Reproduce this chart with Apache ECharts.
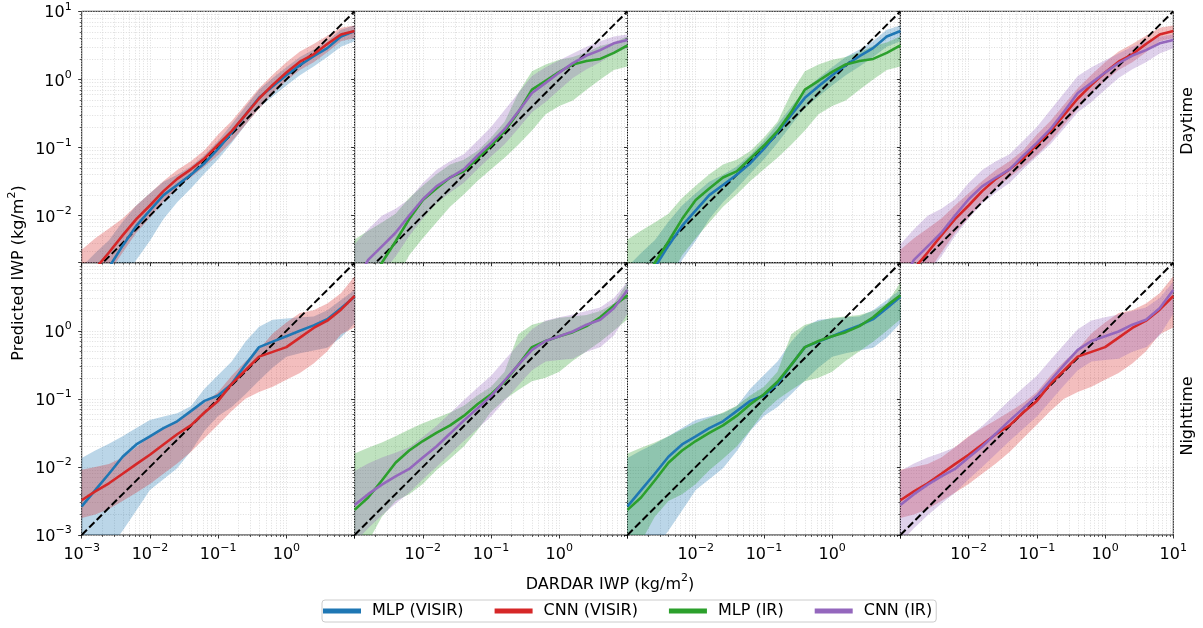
<!DOCTYPE html>
<html><head><meta charset="utf-8">
<script src="https://cdn.jsdelivr.net/npm/echarts@6/dist/echarts.min.js"></script>
<style>html,body{margin:0;padding:0;background:#fff}#c{width:1203px;height:628px}</style>
</head><body><div id="c"></div>
<script>
// DARDAR IWP bin centres (kg/m2)
const xBins = [0.001, 0.00158, 0.00251, 0.00398, 0.00631, 0.01, 0.0158, 0.0251, 0.0398, 0.0631, 0.1, 0.158, 0.251, 0.398, 0.631, 1, 1.58, 2.51, 3.98, 6.31, 10];

// ---- Daytime ----
const dayMlpVisirMedian = [0.00063, 0.001, 0.00174, 0.00363, 0.00708, 0.012, 0.02, 0.0282, 0.0398, 0.0589, 0.0955, 0.166, 0.302, 0.537, 0.794, 1.15, 1.62, 2.19, 2.88, 4.27, 5.13];
const dayMlpVisirLow    = [0.000158, 0.000251, 0.000437, 0.00102, 0.00224, 0.00427, 0.00891, 0.0158, 0.0251, 0.0417, 0.0676, 0.117, 0.214, 0.38, 0.562, 0.813, 1.15, 1.55, 2.14, 3.02, 3.63];
const dayMlpVisirHigh   = [0.00178, 0.00282, 0.00437, 0.00813, 0.0141, 0.0214, 0.0316, 0.0398, 0.0525, 0.0776, 0.126, 0.219, 0.398, 0.708, 1.05, 1.51, 2.14, 2.75, 3.63, 5.37, 6.17];

const dayCnnVisirMedian = [0.000891, 0.00166, 0.00288, 0.00513, 0.00891, 0.0141, 0.0229, 0.0347, 0.0479, 0.0692, 0.11, 0.174, 0.302, 0.525, 0.832, 1.26, 1.82, 2.34, 3.31, 4.57, 5.13];
const dayCnnVisirLow    = [0.000447, 0.000832, 0.00145, 0.00288, 0.00562, 0.00933, 0.0162, 0.0257, 0.0363, 0.0525, 0.0776, 0.123, 0.214, 0.372, 0.631, 0.955, 1.38, 1.78, 2.51, 3.63, 4.07];
const dayCnnVisirHigh   = [0.00316, 0.00468, 0.00646, 0.00912, 0.0141, 0.0214, 0.0324, 0.0468, 0.0631, 0.0912, 0.155, 0.245, 0.427, 0.741, 1.17, 1.78, 2.57, 3.31, 4.37, 5.75, 6.17];

const dayMlpIrMedian = [0.000501, 0.001, 0.00204, 0.00417, 0.00891, 0.017, 0.0251, 0.0363, 0.0447, 0.0692, 0.107, 0.174, 0.331, 0.708, 0.955, 1.29, 1.66, 1.86, 2.0, 2.45, 3.16];
const dayMlpIrLow    = [0.000126, 0.000251, 0.000501, 0.00112, 0.00263, 0.00468, 0.00794, 0.0135, 0.0204, 0.0324, 0.0479, 0.0708, 0.11, 0.178, 0.309, 0.407, 0.49, 0.708, 1.0, 1.38, 1.55];
const dayMlpIrHigh   = [0.00447, 0.00603, 0.00794, 0.0107, 0.0182, 0.0275, 0.0407, 0.0562, 0.0661, 0.0891, 0.141, 0.24, 0.631, 1.32, 1.66, 1.95, 2.14, 2.51, 3.09, 3.47, 4.27];

const dayCnnIrMedian = [0.001, 0.00224, 0.00355, 0.00562, 0.01, 0.0174, 0.0269, 0.0363, 0.0479, 0.0759, 0.117, 0.186, 0.339, 0.631, 0.891, 1.26, 1.74, 2.24, 2.69, 3.39, 3.8];
const dayCnnIrLow    = [0.000316, 0.000794, 0.00141, 0.00251, 0.00501, 0.00912, 0.0151, 0.0219, 0.0302, 0.0479, 0.0741, 0.112, 0.191, 0.331, 0.468, 0.708, 1.05, 1.41, 1.78, 2.4, 2.88];
const dayCnnIrHigh   = [0.0038, 0.00631, 0.01, 0.0126, 0.0174, 0.0302, 0.0468, 0.0631, 0.0794, 0.126, 0.2, 0.355, 0.63, 1.12, 1.51, 1.91, 2.4, 3.02, 3.63, 4.27, 4.57];

// ---- Nighttime ----
const nightMlpVisirMedian = [0.00263, 0.00457, 0.00794, 0.0141, 0.0214, 0.0282, 0.0372, 0.0468, 0.0661, 0.0933, 0.112, 0.166, 0.316, 0.575, 0.692, 0.832, 1.0, 1.2, 1.48, 2.14, 3.16];
const nightMlpVisirLow    = [0.000251, 0.000398, 0.000631, 0.00115, 0.00229, 0.00457, 0.00661, 0.00955, 0.017, 0.0339, 0.0562, 0.0759, 0.117, 0.186, 0.288, 0.417, 0.468, 0.513, 0.562, 0.794, 1.29];
const nightMlpVisirHigh   = [0.0135, 0.0174, 0.0219, 0.0282, 0.0372, 0.049, 0.055, 0.0617, 0.0776, 0.141, 0.224, 0.355, 0.692, 1.15, 1.45, 1.51, 1.58, 1.62, 2.0, 2.82, 3.98];

const nightCnnVisirMedian = [0.00324, 0.00437, 0.00575, 0.00794, 0.011, 0.0151, 0.0214, 0.0302, 0.0407, 0.0631, 0.0933, 0.166, 0.263, 0.417, 0.49, 0.575, 0.794, 1.1, 1.41, 2.04, 3.24];
const nightCnnVisirLow    = [0.00178, 0.002, 0.0024, 0.00316, 0.00417, 0.00562, 0.00794, 0.0112, 0.0166, 0.0263, 0.0417, 0.0661, 0.1, 0.126, 0.151, 0.191, 0.24, 0.331, 0.501, 0.891, 1.12];
const nightCnnVisirHigh   = [0.00912, 0.01, 0.011, 0.0138, 0.0195, 0.0282, 0.0372, 0.049, 0.0646, 0.0871, 0.126, 0.219, 0.355, 0.537, 0.912, 1.32, 1.82, 2.0, 2.51, 3.55, 6.31];

const nightMlpIrMedian = [0.00234, 0.00355, 0.00631, 0.0115, 0.0174, 0.024, 0.0316, 0.0407, 0.0562, 0.0832, 0.117, 0.178, 0.316, 0.575, 0.708, 0.832, 0.955, 1.17, 1.58, 2.34, 3.31];
const nightMlpIrLow    = [0.000398, 0.000794, 0.00186, 0.00316, 0.00398, 0.00562, 0.00891, 0.0132, 0.02, 0.0347, 0.0646, 0.0977, 0.135, 0.182, 0.204, 0.251, 0.363, 0.501, 0.692, 1.0, 1.48];
const nightMlpIrHigh   = [0.0158, 0.0191, 0.0229, 0.0282, 0.0355, 0.0437, 0.0525, 0.0631, 0.0794, 0.112, 0.151, 0.251, 0.891, 1.23, 1.38, 1.55, 1.62, 1.7, 1.95, 2.51, 5.13];

const nightCnnIrMedian = [0.00275, 0.00398, 0.0055, 0.00724, 0.00933, 0.0138, 0.02, 0.0309, 0.0479, 0.0724, 0.11, 0.186, 0.316, 0.525, 0.708, 0.832, 0.977, 1.23, 1.45, 2.14, 3.98];
const nightCnnIrLow    = [0.000776, 0.00126, 0.00195, 0.00288, 0.00417, 0.00661, 0.01, 0.0155, 0.024, 0.0363, 0.055, 0.0933, 0.158, 0.263, 0.355, 0.372, 0.389, 0.49, 0.575, 0.851, 1.78];
const nightCnnIrHigh   = [0.00871, 0.0112, 0.0138, 0.0162, 0.0195, 0.0275, 0.0398, 0.0617, 0.0955, 0.145, 0.219, 0.372, 0.631, 1.05, 1.41, 1.58, 1.74, 1.95, 2.19, 3.02, 5.25];

const modelNames = ['MLP (VISIR)', 'CNN (VISIR)', 'MLP (IR)', 'CNN (IR)'];
const modelColors = ['#1f77b4', '#d62728', '#2ca02c', '#9467bd'];
const rowLabels = ['Daytime', 'Nighttime'];
const panelModels = [[0, 1], [2, 3], [0, 2], [1, 3]];   // models shown in each column
const axisRangeX = [0.001, 10];
const axisRangeYTop = [0.00204, 10];
const axisRangeYBottom = [0.001, 10];
const yTickLabelsTop = [10, 1, 0.1, 0.01];
const yTickLabelsBottom = [1, 0.1, 0.01, 0.001];
const xTickLabelsByColumn = [[0.001, 0.01, 0.1, 1], [0.01, 0.1, 1], [0.01, 0.1, 1], [0.01, 0.1, 1, 10]];
const majorTicks = [0.001, 0.01, 0.1, 1, 10];

// ------------------------------------------------------------------
// Log axes: values are shown on value axes in log10 space. The y
// coordinate is shifted by +4 decades so that all stacked band values
// stay positive (axis labels undo the shift).
const lg = v => Math.log10(v);
const SHIFT = 4;
const ly = v => Math.log10(v) + SHIFT;
const rows = [
  [[dayMlpVisirMedian, dayMlpVisirLow, dayMlpVisirHigh], [dayCnnVisirMedian, dayCnnVisirLow, dayCnnVisirHigh],
   [dayMlpIrMedian, dayMlpIrLow, dayMlpIrHigh], [dayCnnIrMedian, dayCnnIrLow, dayCnnIrHigh]],
  [[nightMlpVisirMedian, nightMlpVisirLow, nightMlpVisirHigh], [nightCnnVisirMedian, nightCnnVisirLow, nightCnnVisirHigh],
   [nightMlpIrMedian, nightMlpIrLow, nightMlpIrHigh], [nightCnnIrMedian, nightCnnIrLow, nightCnnIrHigh]]
];
const FONT = 'DejaVu Sans';
const majorExp = majorTicks.map(lg);
const minorExp = [];
for (let d = -3; d < 1; d++) for (let k = 2; k <= 9; k++) minorExp.push(d + lg(k));

const rich = {
  b: {fontSize: 16, lineHeight: 20, verticalAlign: 'bottom', fontFamily: FONT, color: '#000'},
  s: {fontSize: 11, lineHeight: 13, verticalAlign: 'top', fontFamily: FONT, color: '#000'}
};
const expLabel = e => '{b|10}{s|' + (e < 0 ? '\u2212' + (-e) : e) + '}';
const fmtX = v => expLabel(Math.round(v));
const fmtY = v => expLabel(Math.round(v - SHIFT));
const gridLine = {color: '#d4d4d4', width: 0.8, type: [1, 1.6]};
const noLine = {show: false, onZero: false};

const left0 = 81.7, pw = 272.9;
const rowTop = [11.3, 262.7], rowH = [251.4, 272.3];
const rowYMin = [ly(axisRangeYTop[0]), ly(axisRangeYBottom[0])];
const yMax = ly(axisRangeYTop[1]);
const xMin = lg(axisRangeX[0]), xMax = lg(axisRangeX[1]);

const grid = [], xAxis = [], yAxis = [], series = [];
for (let r = 0; r < 2; r++) {
  for (let c = 0; c < 4; c++) {
    const g = r * 4 + c;
    grid.push({left: left0 + pw * c, top: rowTop[r], width: pw, height: rowH[r], show: true,
      borderColor: '#111', borderWidth: 1, backgroundColor: 'transparent'});
    const xl = r === 1 ? xTickLabelsByColumn[c].map(lg) : [];
    const yl = c === 0 ? (r === 0 ? yTickLabelsTop : yTickLabelsBottom).map(ly) : [];
    xAxis.push({type: 'value', gridIndex: g, min: xMin, max: xMax, position: 'bottom',
      axisLine: noLine,
      axisTick: {show: true, length: 3.5, customValues: majorExp, lineStyle: {color: '#000', width: 0.8}},
      axisLabel: {show: xl.length > 0, customValues: xl, formatter: fmtX, rich: rich, margin: 8},
      splitLine: {show: true, lineStyle: gridLine}});
    xAxis.push({type: 'value', gridIndex: g, min: xMin, max: xMax, position: 'bottom',
      axisLine: noLine,
      axisTick: {show: true, length: 2, customValues: minorExp, lineStyle: {color: '#000', width: 0.6}},
      axisLabel: {show: false},
      splitLine: {show: true, lineStyle: gridLine}});
    const ymin = rowYMin[r];
    yAxis.push({type: 'value', gridIndex: g, min: ymin, max: yMax, position: 'left',
      axisLine: noLine,
      axisTick: {show: true, length: 3.5, customValues: majorExp.map(v => v + SHIFT).filter(v => v >= ymin - 1e-9), lineStyle: {color: '#000', width: 0.8}},
      axisLabel: {show: yl.length > 0, customValues: yl, formatter: fmtY, rich: rich, margin: 10},
      splitLine: {show: true, lineStyle: gridLine}});
    yAxis.push({type: 'value', gridIndex: g, min: ymin, max: yMax, position: 'left',
      axisLine: noLine,
      axisTick: {show: true, length: 2, customValues: minorExp.map(v => v + SHIFT).filter(v => v >= ymin), lineStyle: {color: '#000', width: 0.6}},
      axisLabel: {show: false},
      splitLine: {show: true, lineStyle: gridLine}});

    const ax = {xAxisIndex: 2 * g, yAxisIndex: 2 * g};
    // shaded bands (low .. high). Dimension 0 is mapped to y so that the
    // stack is computed on the y values.
    panelModels[c].forEach(m => {
      const [med, lo, hi] = rows[r][m];
      const stack = 'band' + g + '_' + m;
      series.push(Object.assign({type: 'line', silent: true, symbol: 'none', stack: stack,
        encode: {x: 1, y: 0},
        lineStyle: {opacity: 0, width: 0}, z: 1, animation: false,
        data: xBins.map((x, i) => [ly(lo[i]), lg(x)])}, ax));
      series.push(Object.assign({type: 'line', silent: true, symbol: 'none', stack: stack,
        encode: {x: 1, y: 0},
        lineStyle: {opacity: 0, width: 0}, areaStyle: {color: modelColors[m], opacity: 0.3}, z: 1, animation: false,
        data: xBins.map((x, i) => [lg(hi[i]) - lg(lo[i]), lg(x)])}, ax));
    });
    // 1:1 line
    const x0 = xBins[0], x1 = xBins[xBins.length - 1];
    series.push(Object.assign({type: 'line', silent: true, symbol: 'none', z: 3, animation: false,
      lineStyle: {color: '#000', width: 2, type: [7.4, 3.2]},
      data: [[lg(x0), ly(x0)], [lg(x1), ly(x1)]]}, ax));
    // medians
    panelModels[c].forEach(m => {
      const med = rows[r][m][0];
      series.push(Object.assign({type: 'line', name: modelNames[m], silent: true, symbol: 'none', z: 4, animation: false,
        lineStyle: {color: modelColors[m], width: 2.6}, itemStyle: {color: modelColors[m]},
        data: xBins.map((x, i) => [lg(x), ly(med[i])])}, ax));
    });
  }
}

const supRich = {
  b: {fontSize: 16, lineHeight: 20, verticalAlign: 'bottom', fontFamily: FONT, color: '#000'},
  s: {fontSize: 11, lineHeight: 13, verticalAlign: 'top', fontFamily: FONT, color: '#000'}
};
const graphic = [
  {type: 'text', x: 610, y: 583, silent: true,
    style: {text: '{b|DARDAR IWP (kg/m}{s|2}{b|)}', rich: supRich, align: 'center', verticalAlign: 'middle'}},
  {type: 'text', x: 17, y: 273, rotation: Math.PI / 2, silent: true,
    style: {text: '{b|Predicted IWP (kg/m}{s|2}{b|)}', rich: supRich, align: 'center', verticalAlign: 'middle'}},
  {type: 'text', x: 1188, y: 121, rotation: Math.PI / 2, silent: true,
    style: {text: rowLabels[0], font: '16px "DejaVu Sans"', fill: '#000', align: 'center', verticalAlign: 'middle'}},
  {type: 'text', x: 1188, y: 416, rotation: Math.PI / 2, silent: true,
    style: {text: rowLabels[1], font: '16px "DejaVu Sans"', fill: '#000', align: 'center', verticalAlign: 'middle'}}
];

const chart = echarts.init(document.getElementById('c'), null, {renderer: 'canvas'});
chart.setOption({
  backgroundColor: '#fff',
  animation: false,
  textStyle: {fontFamily: FONT},
  grid, xAxis, yAxis, series, graphic,
  legend: {
    data: modelNames.map((n, i) => ({name: n, icon: 'rect', itemStyle: {color: modelColors[i]}})),
    left: 322, top: 600, orient: 'horizontal', itemWidth: 38, itemHeight: 5, itemGap: 31,
    padding: [3, 4, 3, 1], backgroundColor: '#fff', borderColor: '#cccccc', borderWidth: 1, borderRadius: 3,
    selectedMode: false,
    textStyle: {fontFamily: FONT, fontSize: 16, color: '#000', padding: [0, 0, 0, 6]}
  }
});
</script></body></html>
